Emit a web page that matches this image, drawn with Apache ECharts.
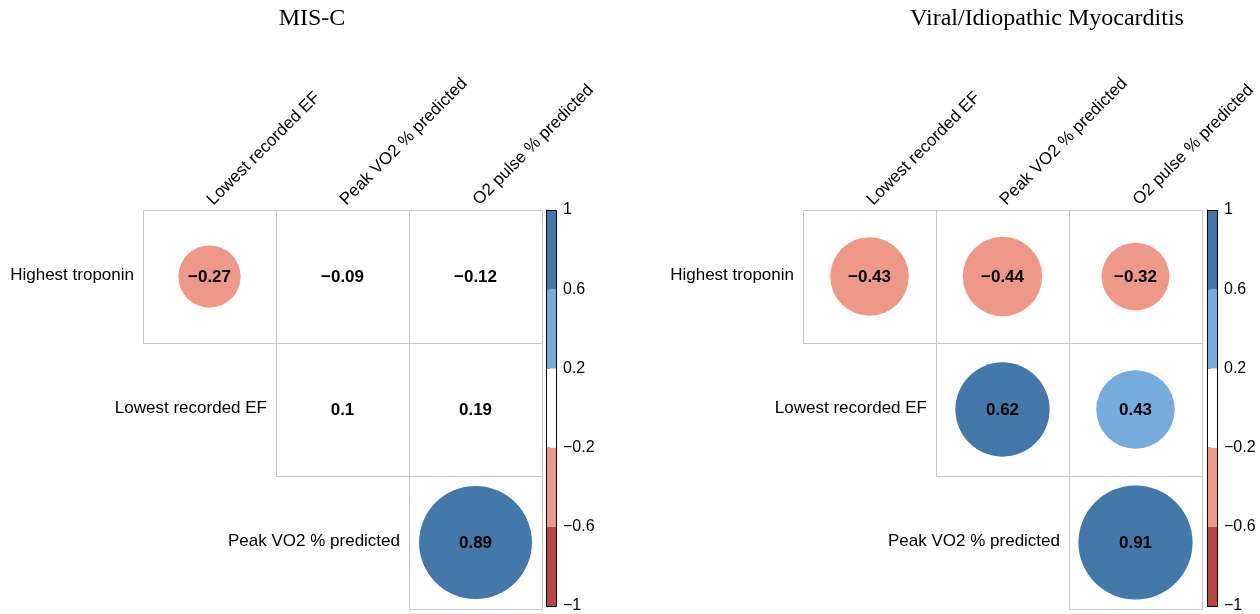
<!DOCTYPE html>
<html><head><meta charset="utf-8">
<script src="https://cdn.jsdelivr.net/npm/echarts@6/dist/echarts.min.js"></script>
<style>html,body{margin:0;padding:0;background:#fff}#c{width:1260px;height:614px}</style>
</head><body><div id="c"></div>
<script>
// ---- data ----
const titles = ["MIS-C", "Viral/Idiopathic Myocarditis"];
const rowVars = ["Highest troponin", "Lowest recorded EF", "Peak VO2 % predicted"];
const colVars = ["Lowest recorded EF", "Peak VO2 % predicted", "O2 pulse % predicted"];
const miscCorr = [
  [-0.27, -0.09, -0.12],
  [null,   0.10,  0.19],
  [null,   null,  0.89]
];
const viralCorr = [
  [-0.43, -0.44, -0.32],
  [null,   0.62,  0.43],
  [null,   null,  0.91]
];
const colorBreaks = [-1, -0.6, -0.2, 0.2, 0.6, 1];
const palette = ["#BB4444", "#EE9988", "#FFFFFF", "#77AADD", "#4477AA"];

// ---- layout ----
const SANS = '"Liberation Sans", Arial, sans-serif';
const SERIF = '"Liberation Serif", "Times New Roman", serif';
const panels = [
  { mat: miscCorr,  gridLeft: 143, barLeft: 546,  titleX: 312 },
  { mat: viralCorr, gridLeft: 803, barLeft: 1207, titleX: 1047 }
];
const TOP = 210, SIZE = 399;

function fmt(v) { return String(v).replace('-', '\u2212'); }
function colorFor(v) {
  for (let i = 0; i < palette.length; i++) {
    if (v < colorBreaks[i + 1] || i === palette.length - 1) return palette[i];
  }
}

const grid = [], xAxis = [], yAxis = [], series = [], graphic = [];
panels.forEach((pn, k) => {
  const gm = grid.length;
  grid.push({ left: pn.gridLeft, top: TOP, width: SIZE, height: SIZE });
  xAxis.push({ type: 'category', gridIndex: gm, data: colVars, show: false });
  yAxis.push({ type: 'category', gridIndex: gm, data: rowVars, inverse: true, show: false });
  const gb = grid.length;
  grid.push({ left: pn.barLeft, top: TOP, width: 10, height: SIZE });
  xAxis.push({ type: 'value', gridIndex: gb, min: 0, max: 1, show: false });
  yAxis.push({
    type: 'value', gridIndex: gb, min: -1, max: 1, position: 'right',
    splitLine: { show: false },
    axisLine: { show: true, lineStyle: { color: '#000', width: 1 } },
    axisTick: { show: true, length: 4, customValues: colorBreaks, lineStyle: { color: '#000' } },
    axisLabel: { customValues: colorBreaks, formatter: v => fmt(v), color: '#000',
                 fontSize: 16, fontFamily: SANS, margin: 7 }
  });

  // cells
  const cells = [];
  pn.mat.forEach((row, r) => row.forEach((v, c) => { if (v !== null) cells.push([c, r, v]); }));
  series.push({
    type: 'custom', xAxisIndex: gm, yAxisIndex: gm, data: cells, silent: true,
    renderItem: (params, api) => {
      const c = api.value(0), r = api.value(1), v = api.value(2);
      const p = api.coord([c, r]);
      const s = api.size([1, 1]);
      const w = s[0], h = s[1];
      return { type: 'group', children: [
        { type: 'rect', shape: { x: Math.round(p[0] - w / 2) + 0.5, y: Math.round(p[1] - h / 2) + 0.5,
            width: Math.round(w), height: Math.round(h) },
          style: { fill: 'none', stroke: '#C8C8C8', lineWidth: 1 } },
        { type: 'circle', shape: { cx: p[0], cy: p[1], r: 0.45 * Math.min(w, h) * Math.sqrt(Math.abs(v)) },
          style: { fill: colorFor(v) } },
        { type: 'text', z2: 10, style: { text: fmt(v), x: p[0], y: p[1] + 1,
            align: 'center', verticalAlign: 'middle', textAlign: 'center', textVerticalAlign: 'middle',
            font: 'bold 17px ' + SANS, fill: '#000' } }
      ]};
    }
  });

  // row labels (placed left of first cell in each row)
  const rowLab = pn.mat.map((row, r) => [row.findIndex(v => v !== null), r]);
  series.push({
    type: 'custom', xAxisIndex: gm, yAxisIndex: gm, data: rowLab, silent: true,
    renderItem: (params, api) => {
      const p = api.coord([api.value(0), api.value(1)]);
      const w = api.size([1, 1])[0];
      return { type: 'text', style: { text: rowVars[params.dataIndex], x: p[0] - w / 2 - 9, y: p[1] - 1.5,
        align: 'right', verticalAlign: 'middle', textAlign: 'right', textVerticalAlign: 'middle',
        font: '17px ' + SANS, fill: '#000' } };
    }
  });

  // column labels (rotated 45 degrees above each column)
  const colLab = colVars.map((n, c) => [c, 0]);
  series.push({
    type: 'custom', xAxisIndex: gm, yAxisIndex: gm, data: colLab, silent: true,
    renderItem: (params, api) => {
      const p = api.coord([api.value(0), api.value(1)]);
      const h = api.size([1, 1])[1];
      return { type: 'text', x: p[0] + 6.5, y: p[1] - h / 2 - 1.5, rotation: Math.PI / 4,
        style: { text: colVars[params.dataIndex], x: 0, y: 0,
          align: 'left', verticalAlign: 'bottom', textAlign: 'left', textVerticalAlign: 'bottom',
          font: '17px ' + SANS, fill: '#000' } };
    }
  });

  // colour bar segments
  const segs = palette.map((col, i) => [colorBreaks[i], colorBreaks[i + 1]]);
  series.push({
    type: 'custom', xAxisIndex: gb, yAxisIndex: gb, data: segs, silent: true,
    renderItem: (params, api) => {
      const p1 = api.coord([0, api.value(0)]);
      const p2 = api.coord([1, api.value(1)]);
      return { type: 'rect', shape: { x: p1[0], y: p2[1], width: p2[0] - p1[0], height: p1[1] - p2[1] },
        style: { fill: palette[params.dataIndex], stroke: null } };
    }
  });
  // colour bar frame
  series.push({
    type: 'custom', xAxisIndex: gb, yAxisIndex: gb, data: [[colorBreaks[0], colorBreaks[colorBreaks.length - 1]]],
    silent: true, z: 3,
    renderItem: (params, api) => {
      const p1 = api.coord([0, api.value(0)]);
      const p2 = api.coord([1, api.value(1)]);
      return { type: 'rect', shape: { x: Math.round(p1[0]) + 0.5, y: Math.round(p2[1]) + 0.5,
          width: Math.round(p2[0] - p1[0]), height: Math.round(p1[1] - p2[1]) },
        style: { fill: 'none', stroke: '#000', lineWidth: 1 } };
    }
  });

  graphic.push({ type: 'text', x: pn.titleX, y: 19,
    style: { text: titles[k], font: '24px ' + SERIF, textAlign: 'center', textVerticalAlign: 'middle',
             align: 'center', verticalAlign: 'middle', fill: '#000' } });
});

const chart = echarts.init(document.getElementById('c'), null, { renderer: 'canvas' });
chart.setOption({ animation: false, backgroundColor: '#fff', grid, xAxis, yAxis, series, graphic });
</script></body></html>
